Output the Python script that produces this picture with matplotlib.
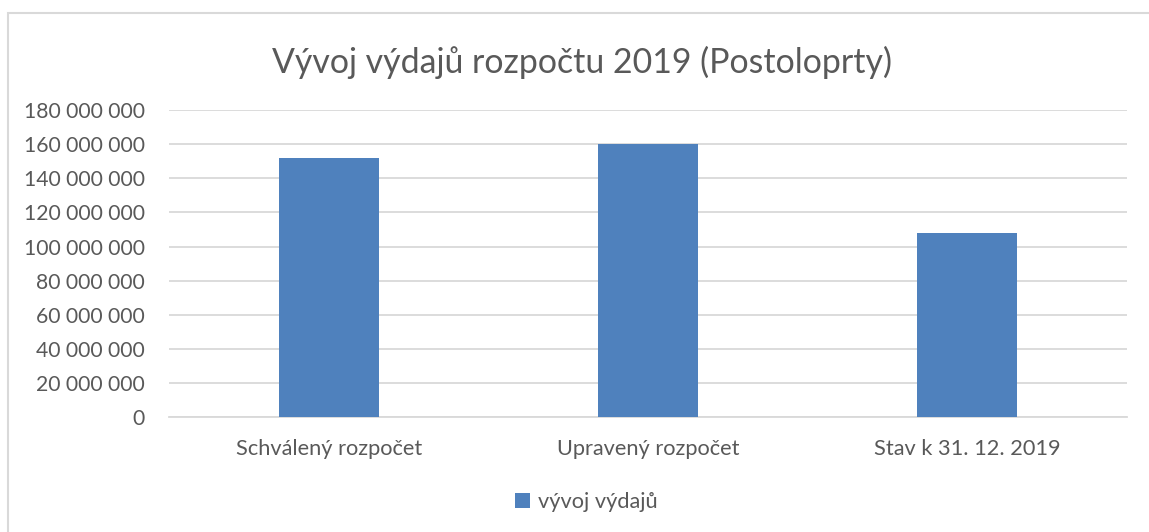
import matplotlib
matplotlib.use("Agg")
import matplotlib.pyplot as plt
from matplotlib.patches import Rectangle
from matplotlib.ticker import FuncFormatter

categories = ["Schválený rozpočet", "Upravený rozpočet", "Stav k 31. 12. 2019"]
values = [151_900_000, 160_000_000, 108_000_000]
series_name = "vývoj výdajů"
title = "Vývoj výdajů rozpočtu 2019 (Postoloprty)"
y_ticks = list(range(0, 180_000_001, 20_000_000))

text_color = "#595959"
bar_color = "#4F81BD"
grid_color = "#D9D9D9"
font = ["Lato", "DejaVu Sans"]

W, H = 1149, 532
fig = plt.figure(figsize=(W / 100, H / 100), dpi=100)
fig.patch.set_facecolor("white")

# chart frame (left and top edges visible)
fig.add_artist(Rectangle((8 / W, -0.1), 1.2, (H - 13) / H + 0.1,
                         transform=fig.transFigure, fill=False,
                         edgecolor="#D9D9D9", linewidth=1.5))

ax = fig.add_axes([169 / W, (H - 417.3) / H, (1127 - 169) / W, (417.3 - 110) / H])
x = range(len(categories))
bars = ax.bar(x, values, width=0.313, color=bar_color, zorder=3, label=series_name)

ax.set_xlim(-0.5, len(categories) - 0.5)
ax.set_ylim(0, 180_000_000)
ax.set_yticks(y_ticks)
ax.yaxis.set_major_formatter(FuncFormatter(lambda v, p: f"{int(v):,}".replace(",", " ")))
ax.set_xticks(list(x))
ax.set_xticklabels(categories)

ax.grid(axis="y", color=grid_color, linewidth=1.3, zorder=0)
for s in ["top", "right", "left"]:
    ax.spines[s].set_visible(False)
ax.spines["bottom"].set_color(grid_color)
ax.spines["bottom"].set_linewidth(1.3)
ax.tick_params(axis="both", length=0, colors=text_color)
ax.tick_params(axis="y", pad=17.5, labelsize=15.2)
ax.tick_params(axis="x", pad=15.5, labelsize=15.7)
for lbl in ax.get_xticklabels() + ax.get_yticklabels():
    lbl.set_family(font)

fig.text(582 / W, 1 - 62 / H, title, ha="center", va="center",
         fontsize=24.4, color=text_color, family=font)

leg = fig.legend(handles=[bars], labels=[series_name], loc="center",
                 bbox_to_anchor=(586 / W, 1 - 502 / H), frameon=False,
                 handlelength=0.7, handleheight=0.7, handletextpad=0.35,
                 prop={"family": font, "size": 15.7})
for t in leg.get_texts():
    t.set_color(text_color)

fig.savefig("out.png", dpi=100, facecolor="white")
